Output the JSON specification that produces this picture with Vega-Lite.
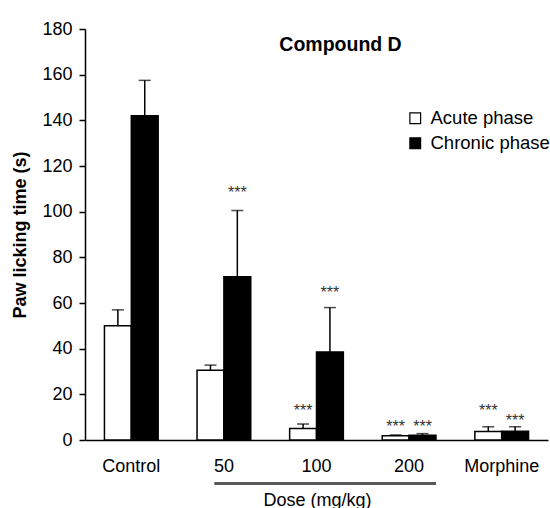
{
  "$schema": "https://vega.github.io/schema/vega-lite/v6.json",
  "autosize": "none",
  "width": 463,
  "height": 411,
  "padding": {"left": 85, "top": 29, "right": 2, "bottom": 68},
  "background": "white",
  "config": {
    "font": "Liberation Sans",
    "view": {"stroke": null},
    "axis": {"grid": false, "domainColor": "black", "tickColor": "black", "labelColor": "black", "titleColor": "black", "labelFont": "Liberation Sans", "titleFont": "Liberation Sans"}
  },
  "title": {"text": "Compound D", "fontSize": 19.5, "fontWeight": "bold", "font": "Liberation Sans", "color": "black", "anchor": "middle", "baseline": "middle", "offset": -14, "dx": 24, "dy": 30},
  "data": {"values": [
    {"dose": "Control", "phase": "Acute phase", "value": 50, "upper": 57, "stars": "", "star_y": 0},
    {"dose": "Control", "phase": "Chronic phase", "value": 142, "upper": 157.5, "stars": "", "star_y": 0},
    {"dose": "50", "phase": "Acute phase", "value": 30.5, "upper": 32.8, "stars": "", "star_y": 0},
    {"dose": "50", "phase": "Chronic phase", "value": 71.5, "upper": 100.5, "stars": "***", "star_y": 110},
    {"dose": "100", "phase": "Acute phase", "value": 5, "upper": 7, "stars": "***", "star_y": 14.5},
    {"dose": "100", "phase": "Chronic phase", "value": 38.5, "upper": 58, "stars": "***", "star_y": 66},
    {"dose": "200", "phase": "Acute phase", "value": 1.9, "upper": 2.2, "stars": "***", "star_y": 7.5},
    {"dose": "200", "phase": "Chronic phase", "value": 2.1, "upper": 2.8, "stars": "***", "star_y": 7.5},
    {"dose": "Morphine", "phase": "Acute phase", "value": 3.7, "upper": 5.8, "stars": "***", "star_y": 14.5},
    {"dose": "Morphine", "phase": "Chronic phase", "value": 3.8, "upper": 5.8, "stars": "***", "star_y": 10}
  ]},
  "encoding": {
    "x": {"field": "dose", "type": "nominal", "sort": ["Control", "50", "100", "200", "Morphine"],
      "scale": {"paddingInner": 0.42, "paddingOuter": 0.21},
      "axis": {"title": "Dose (mg/kg)", "titleFontSize": 18, "titleFontWeight": "normal", "titleX": 232, "titleY": 65, "titleBaseline": "alphabetic", "titleAnchor": null, "titleAlign": "center", "labelAngle": 0, "labelFontSize": 18, "ticks": false, "tickSize": 0, "labelPadding": 17, "domainWidth": 1.5}},
    "xOffset": {"field": "phase", "type": "nominal", "sort": ["Acute phase", "Chronic phase"], "scale": {"paddingInner": 0, "paddingOuter": 0}}
  },
  "layer": [
    {
      "mark": {"type": "bar", "stroke": "black", "strokeWidth": 1.5},
      "encoding": {
        "y": {"field": "value", "type": "quantitative", "scale": {"domain": [0, 180], "nice": false},
          "axis": {"title": "Paw licking time (s)", "titleFontSize": 18, "titleFontWeight": "bold", "titlePadding": 12, "values": [0, 20, 40, 60, 80, 100, 120, 140, 160, 180], "labelFontSize": 18, "tickSize": 6, "labelPadding": 7, "domainWidth": 1.5, "tickWidth": 1.5}},
        "fill": {"field": "phase", "type": "nominal", "scale": {"domain": ["Acute phase", "Chronic phase"], "range": ["white", "black"]},
          "legend": {"title": null, "orient": "none", "legendX": 321, "legendY": 80, "symbolType": "square", "symbolSize": 115, "symbolStrokeColor": "black", "symbolStrokeWidth": 1.2, "labelFontSize": 18.5, "labelColor": "black", "labelFont": "Liberation Sans", "rowPadding": 6, "labelOffset": 6, "padding": 0}}
      }
    },
    {
      "mark": {"type": "rule", "color": "black", "strokeWidth": 1.5},
      "encoding": {"y": {"field": "value", "type": "quantitative"}, "y2": {"field": "upper"}}
    },
    {
      "mark": {"type": "tick", "color": "black", "size": 12, "thickness": 1.5},
      "encoding": {"y": {"field": "upper", "type": "quantitative"}}
    },
    {
      "mark": {"type": "text", "fontSize": 16, "color": "#333", "baseline": "middle", "dy": 4},
      "encoding": {"y": {"field": "star_y", "type": "quantitative"}, "text": {"field": "stars"}}
    },
    {
      "mark": {"type": "rule", "color": "#555", "strokeWidth": 1.5},
      "encoding": {
        "x": {"datum": "50", "type": "nominal", "bandPosition": 0.33},
        "x2": {"datum": "200", "bandPosition": 1},
        "y": {"datum": -19, "type": "quantitative"},
        "xOffset": null
      }
    }
  ]
}
